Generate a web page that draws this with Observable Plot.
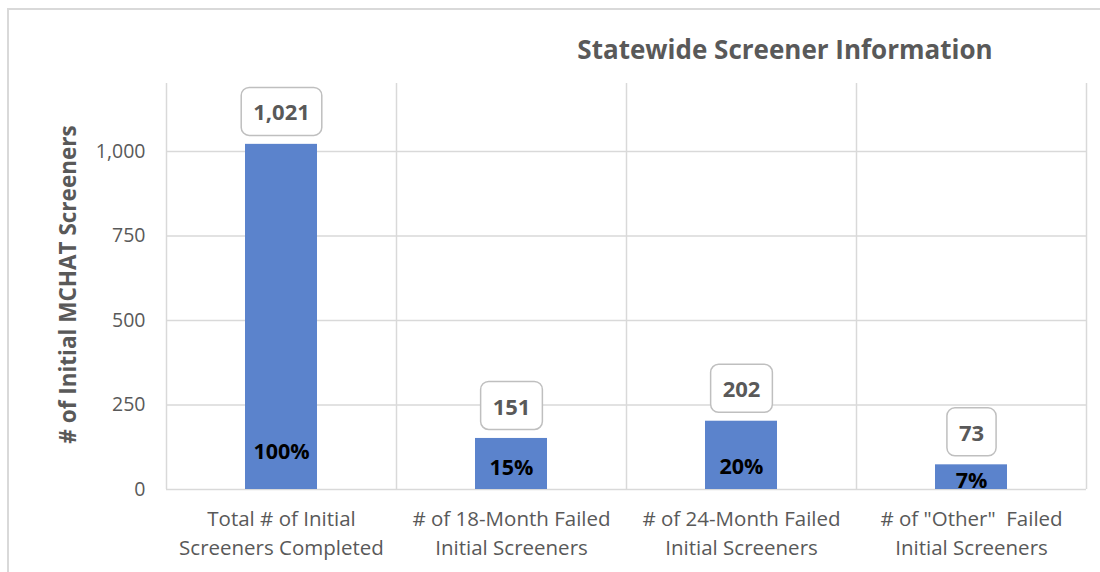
<!DOCTYPE html>
<html>
<head>
<meta charset="utf-8">
<script src="https://cdn.jsdelivr.net/npm/d3@7"></script>
<script src="https://cdn.jsdelivr.net/npm/@observablehq/plot@0.6"></script>
<style>
  html, body { margin: 0; padding: 0; background: #fff; }
  #wrap { position: relative; width: 1100px; height: 572px; overflow: hidden; font-family: "Open Sans", sans-serif; }
  #border { position: absolute; left: 7px; top: 8px; width: 1100px; height: 600px; border: 2px solid #d9d9d9; box-sizing: border-box; }
  #title { position: absolute; left: 0; width: 1570px; top: 34px; line-height: 30px; text-align: center; font-size: 26px; font-weight: bold; color: #595959; }
  #chart { position: absolute; left: 0; top: 0; }
</style>
</head>
<body>
<div id="wrap">
  <div id="border"></div>
  <div id="chart"></div>
  <div id="title">Statewide Screener Information</div>
</div>
<script>
const categories = [
  "Total # of Initial\nScreeners Completed",
  "# of 18-Month Failed\nInitial Screeners",
  "# of 24-Month Failed\nInitial Screeners",
  "# of \"Other\"  Failed\nInitial Screeners"
];
const counts = [1021, 151, 202, 73];
const percents = ["100%", "15%", "20%", "7%"];
const yTicks = [0, 250, 500, 750, 1000];

// label offsets (styling only)
const pctDy = [-37, -21, -22, -8];

const data = categories.map((c, i) => ({category: c, count: counts[i], pct: percents[i], i}));

const tagClass = (cls) => (index, scales, values, dims, ctx, next) => {
  const g = next(index, scales, values, dims, ctx);
  g.setAttribute("class", cls);
  return g;
};

const chart = Plot.plot({
  width: 1100,
  height: 572,
  marginLeft: 166,
  marginRight: 14,
  marginTop: 83,
  marginBottom: 83,
  style: {fontFamily: "'Open Sans', sans-serif", background: "transparent"},
  x: {domain: categories, padding: 0, label: null},
  y: {domain: [0, 1201], label: null},
  marks: [
    Plot.ruleY(yTicks, {stroke: "#d9d9d9", strokeWidth: 1.5}),
    Plot.ruleX(categories, {x: d => d, dx: -115, stroke: "#d9d9d9", strokeWidth: 1.5}),
    Plot.ruleX([categories[categories.length - 1]], {x: d => d, dx: 115, stroke: "#d9d9d9", strokeWidth: 1.5}),
    Plot.barY(data, {x: "category", y: "count", fill: "#5b83cc", insetLeft: 79, insetRight: 79}),
    ...data.map((d, k) => Plot.text([d], {x: "category", y: 0, text: "pct", dy: pctDy[k], fontWeight: "bold", fontSize: 21.5, fill: "#000", clip: "frame"})),
    Plot.text(data, {x: "category", y: "count", text: d => d3.format(",")(d.count), dy: -31, fontWeight: "bold", fontSize: 22, fill: "#595959", render: tagClass("vlabels")}),
    Plot.axisY({ticks: yTicks, tickSize: 0, tickPadding: 21, fontSize: 19.5, color: "#595959", tickFormat: d3.format(","), label: null}),
    Plot.axisX({tickSize: 0, tickPadding: 0, fontSize: 20.5, color: "#595959", label: null, lineHeight: 1.45, dy: 15}),
    Plot.text(["# of Initial MCHAT Screeners"], {frameAnchor: "left", dx: -98, dy: -2, rotate: -90, textAnchor: "middle", fontSize: 22.5, fontWeight: "bold", fill: "#595959", text: d => d})
  ]
});

document.getElementById("chart").appendChild(chart);

// rounded boxes behind value labels
d3.select(chart).selectAll("g.vlabels text").each(function() {
  const bb = this.getBBox();
  const tr = this.getAttribute("transform");
  const padX = 12, padY = 11;
  const r = d3.select(this.parentNode).insert("rect", () => this)
    .attr("x", bb.x - padX)
    .attr("y", bb.y - padY + 2)
    .attr("width", bb.width + 2 * padX)
    .attr("height", bb.height + 2 * padY - 4)
    .attr("rx", 8)
    .attr("fill", "#fff")
    .attr("stroke", "#bfbfbf")
    .attr("stroke-width", 1.5);
  if (tr) r.attr("transform", tr);
});
</script>
</body>
</html>
